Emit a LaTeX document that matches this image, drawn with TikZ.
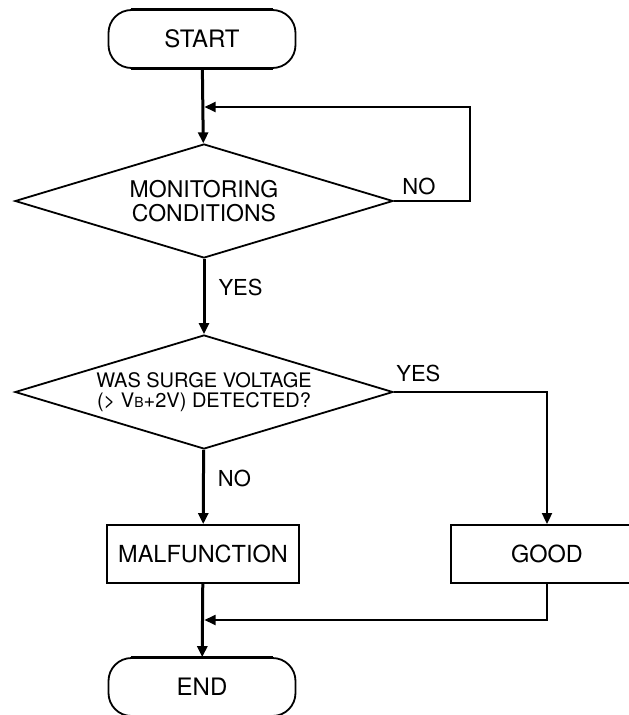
\documentclass[tikz,border=0pt]{standalone}
\usepackage{fontspec}
\setmainfont{TeX Gyre Heros}
\usetikzlibrary{shapes.geometric, arrows.meta, positioning}

\tikzset{
  heavy/.style={line width=3pt},
  light/.style={line width=1.8pt},
  term/.style={draw, light, rounded corners=23pt, minimum width=187pt, minimum height=58pt, font=\fontsize{24}{26}\selectfont},
  decision/.style={draw, light, diamond, aspect=3.32, minimum width=378pt, minimum height=114pt, inner sep=0pt, align=center},
  proc/.style={draw, light, minimum width=192pt, minimum height=58pt, font=\fontsize{23.5}{26}\selectfont},
  lbl/.style={inner sep=0pt, font=\fontsize{22}{24}\selectfont},
  >={Triangle[length=11pt,width=10pt]}
}

\begin{document}
\begin{tikzpicture}[x=1pt, y=-1pt]
  \useasboundingbox (0,0) rectangle (629,715);
  \clip (0,0) rectangle (629,715);

  \node[term] (start) at (202,39) {START};
  \node[decision, font=\fontsize{23}{23.3}\selectfont] (monitor) at (204,201) {MONITORING\\CONDITIONS};
  \node[decision, font=\fontsize{20}{19.5}\selectfont] (surge) at (204,392) {WAS SURGE VOLTAGE\\(> V{\fontsize{14}{14}\selectfont B}+2V) DETECTED?};
  \node[proc] (malf) at (203,554) {MALFUNCTION};
  \node[proc] (good) at (547,554) {GOOD};
  \node[term] (end) at (202,687) {END};
  \coordinate (loop) at (204.5,107);
  \coordinate (merge) at (204.5,620);

  % thick top and bottom of the terminals
  \foreach \t in {start, end} {
    \draw[heavy] ([xshift=23pt]\t.north west) -- ([xshift=-23pt]\t.north east);
    \draw[heavy] ([xshift=23pt]\t.south west) -- ([xshift=-23pt]\t.south east);
  }

  \draw[heavy, ->] (start) -- (monitor);
  \draw[light, ->] (monitor.east) -- node[lbl, above=5pt, pos=0.33] {NO} ++(76,0) |- (loop);
  \draw[heavy, ->] (monitor) -- node[lbl, right=13pt, pos=0.38] {YES} (surge);
  \draw[light, ->] (surge.east) -| node[lbl, above=9pt, pos=0.08] {YES} (good);
  \draw[heavy, ->] (surge) -- node[lbl, right=13pt, pos=0.38] {NO} (malf);
  \draw[heavy, ->] (malf) -- (end);
  \draw[light, ->] (good) |- (merge);
\end{tikzpicture}
\end{document}
